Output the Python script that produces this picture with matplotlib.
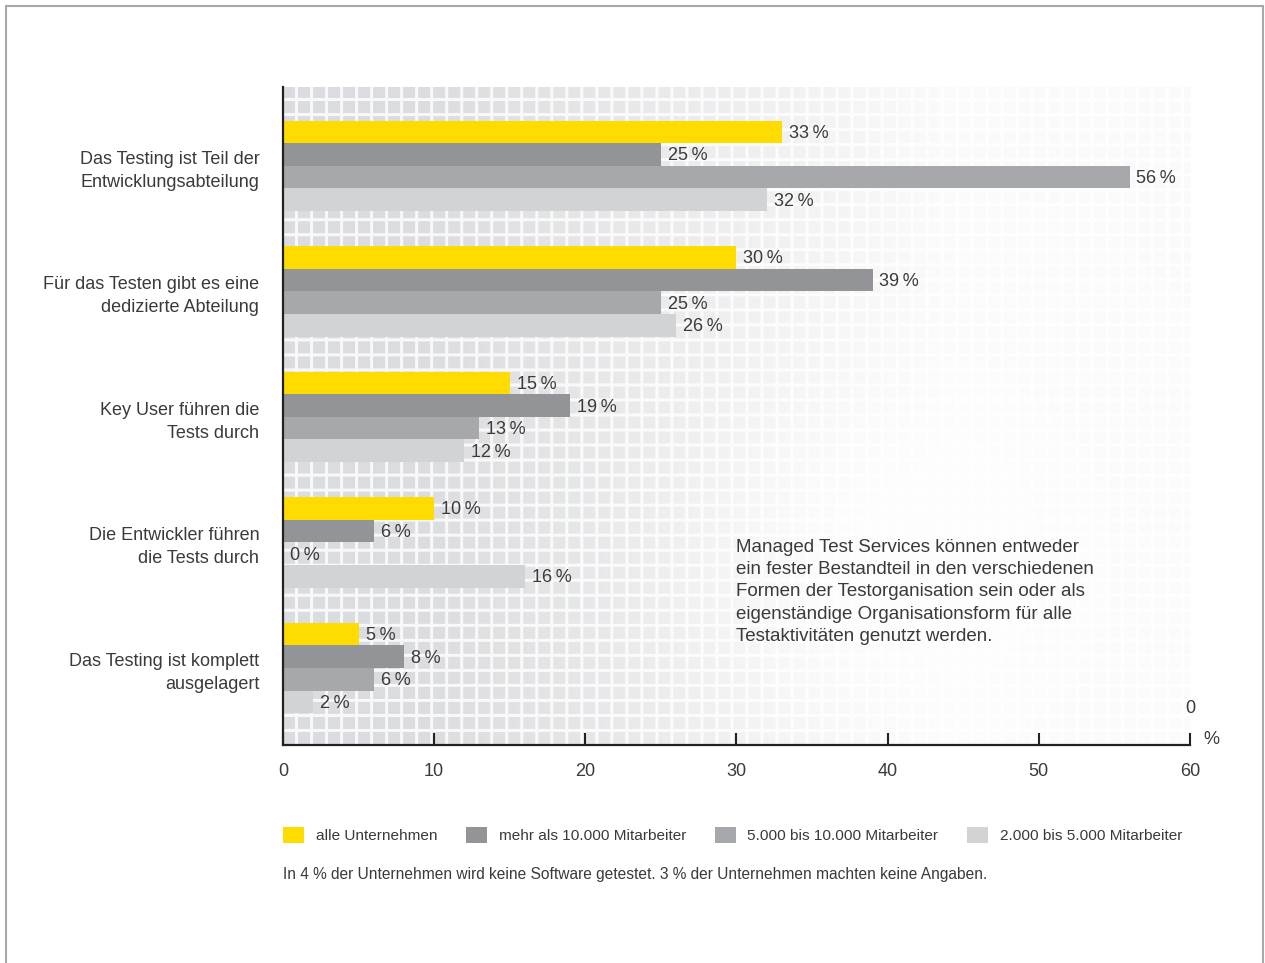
import numpy as np
import matplotlib
matplotlib.use('Agg')
import matplotlib.pyplot as plt
from matplotlib.patches import Rectangle, Patch

plt.rcParams['font.family'] = ['Liberation Sans', 'DejaVu Sans']

categories = [
    'Das Testing ist Teil der\nEntwicklungsabteilung',
    'Für das Testen gibt es eine\ndedizierte Abteilung',
    'Key User führen die\nTests durch',
    'Die Entwickler führen\ndie Tests durch',
    'Das Testing ist komplett\nausgelagert',
]
series_names = ['alle Unternehmen', 'mehr als 10.000 Mitarbeiter',
                '5.000 bis 10.000 Mitarbeiter', '2.000 bis 5.000 Mitarbeiter']
alle = [33, 30, 15, 10, 5]
mehr_10000 = [25, 39, 19, 6, 8]
von_5000 = [56, 25, 13, 0, 6]
von_2000 = [32, 26, 12, 16, 2]
xticks = [0, 10, 20, 30, 40, 50, 60]

note = ('Managed Test Services können entweder\n'
        'ein fester Bestandteil in den verschiedenen\n'
        'Formen der Testorganisation sein oder als\n'
        'eigenständige Organisationsform für alle\n'
        'Testaktivitäten genutzt werden.')
footnote = 'In 4 % der Unternehmen wird keine Software getestet. 3 % der Unternehmen machten keine Angaben.'

colors = ['#FFDC00', '#939498', '#A7A8AB', '#D2D3D4']
txt = '#3a3a3a'

fig = plt.figure(figsize=(12.65, 9.63), dpi=100)
ax = fig.add_axes([0.2237, 0.2264, 0.7170, 0.6833])

# tiled background: grey squares with white gaps, fading to the right
W, H = 907, 658
yy, xx = np.mgrid[0:H, 0:W]
tile = ((xx % 15) < 12) & ((yy % 15) < 12)
u = xx / W
v = yy / H
alpha = np.clip(1.0 - 0.9 * (u - 0.15) / 0.6, 0.12, 1.0)
glow = np.exp(-(((u - 0.68) / 0.22) ** 2 + ((v - 0.72) / 0.3) ** 2))
alpha = np.clip(alpha * (1 - 0.85 * glow), 0.05, 1.0)
img = np.ones((H, W, 4))
img[..., :3] = np.where(tile[..., None], np.array([0.86, 0.865, 0.875]), 0.975)
img[..., 3] = alpha
ax.imshow(img, extent=[0, 1, 0, 1], transform=ax.transAxes, aspect='auto',
          interpolation='bilinear', zorder=0)

h = 0.18
y = np.arange(len(categories))
for j, vals in enumerate([alle, mehr_10000, von_5000, von_2000]):
    pos = y + (j - 1.5) * h
    ax.barh(pos, vals, height=h, color=colors[j], zorder=2, label=series_names[j])
    for p, val in zip(pos, vals):
        ax.annotate(f'{val}\u2009%', (val, p), xytext=(5, -1), textcoords='offset points',
                    va='center', ha='left', fontsize=13, color=txt, zorder=3)

ax.set_xlim(0, 60)
ax.set_ylim(4.614, -0.629)
ax.set_xticks(xticks)
ax.set_xticklabels([str(t) for t in xticks])
ax.set_yticks(y)
ax.set_yticklabels(categories)
for lab in ax.get_yticklabels():
    lab.set_linespacing(1.45)
ax.tick_params(axis='x', direction='in', length=9, width=1.5, color='#222222',
               pad=13, labelsize=13, labelcolor=txt)
ax.tick_params(axis='y', length=0, pad=17, labelsize=13, labelcolor=txt)
for s in ['top', 'right']:
    ax.spines[s].set_visible(False)
for s in ['left', 'bottom']:
    ax.spines[s].set_linewidth(1.6)
    ax.spines[s].set_color('#222222')
    ax.spines[s].set_zorder(4)

# stray zero and unit at the end of the axis
ax.text(60, 0.056, '0', transform=ax.get_xaxis_transform(), ha='center', va='center',
        fontsize=13, color=txt)
ax.annotate('%', (1, 0), xycoords='axes fraction', xytext=(9.5, 3.6), textcoords='offset points',
            ha='left', va='center', fontsize=13, color=txt)

ax.text(0.5, 0.2325, note, transform=ax.transAxes, ha='left', va='center',
        fontsize=13.5, color=txt, linespacing=1.42, zorder=3)

handles = [Patch(facecolor=c, edgecolor='none') for c in colors]
fig.legend(handles, series_names, loc='center left', bbox_to_anchor=(0.2237, 0.1329),
           ncol=4, frameon=False, fontsize=11.1, handlelength=1.36, handleheight=1.17,
           handletextpad=0.77, columnspacing=1.85, borderpad=0, borderaxespad=0,
           labelcolor=txt)
fig.text(0.2237, 0.0914, footnote, ha='left', va='center', fontsize=11.2, color=txt)

fig.patches.append(Rectangle((6 / 1265, -0.05), 1257 / 1265, 1.05 - 6 / 963,
                             transform=fig.transFigure, fill=False,
                             edgecolor='#a8a8a8', linewidth=1.5))

fig.savefig('out.png', dpi=100)
